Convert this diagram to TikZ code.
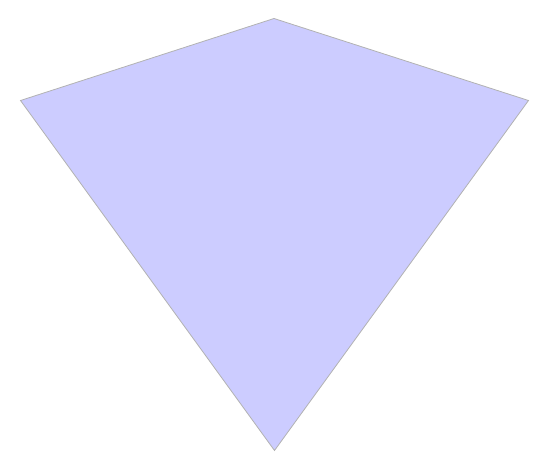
\documentclass[tikz,border=0pt]{standalone}
\begin{document}
\begin{tikzpicture}[x=1pt,y=-1pt]
\tikzset{kite/.style={fill=blue!20,draw=black!30,line width=0.8pt,line join=miter}}
\useasboundingbox (0,0) rectangle (549,470);
\coordinate (t) at (274,18.5);
\coordinate (l) at (20.5,100.5);
\coordinate (r) at (528.5,100.5);
\coordinate (b) at (274.5,450.5);
\draw[kite] (t) -- (r) -- (b) -- (l) -- cycle;
\end{tikzpicture}
\end{document}
